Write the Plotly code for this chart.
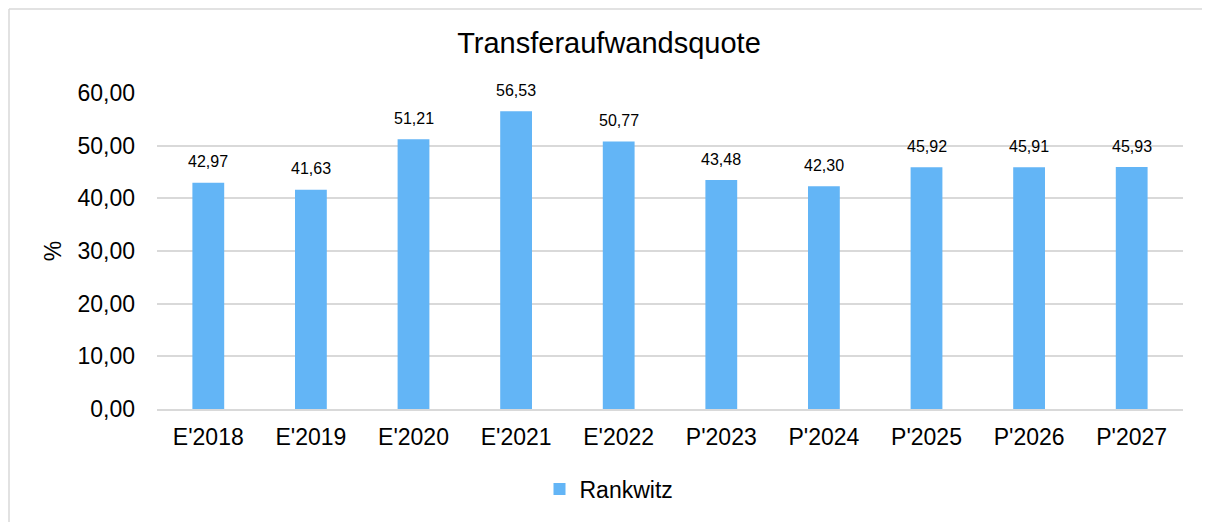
import plotly.graph_objects as go

categories = ["E'2018", "E'2019", "E'2020", "E'2021", "E'2022", "P'2023", "P'2024", "P'2025", "P'2026", "P'2027"]
values = [42.97, 41.63, 51.21, 56.53, 50.77, 43.48, 42.30, 45.92, 45.91, 45.93]
series_name = "Rankwitz"
y_ticks = [0, 10, 20, 30, 40, 50, 60]

FONT = "Liberation Sans, Arial, sans-serif"
BAR = "#63B5F6"

W, H = 1202, 514
L, R, T, B = 149, 27, 85, 113
PW, PH = W - L - R, H - T - B

fig = go.Figure()
fig.add_trace(go.Bar(x=categories, y=values, name=series_name, marker_color=BAR,
                     marker_line_width=0, showlegend=True))

for c, v in zip(categories, values):
    fig.add_annotation(x=c, y=v, text=f"{v:.2f}".replace(".", ","), showarrow=False,
                       yshift=21, font=dict(size=16, color="#000000", family=FONT))

fig.update_layout(
    width=W, height=H,
    margin=dict(l=L, r=R, t=T, b=B, autoexpand=False),
    paper_bgcolor="white", plot_bgcolor="white",
    separators=",.",
    bargap=0.69,
    font=dict(family=FONT, color="#000000"),
    title=dict(text="Transferaufwandsquote", x=0.5, xanchor="center", y=1 - 35 / H,
               yanchor="middle", font=dict(size=29, family=FONT, color="#000000")),
    legend=dict(orientation="h", x=0.5, xref="container", xanchor="center", y=(PH - (481 - T)) / PH,
                yanchor="middle", font=dict(size=23, family=FONT), traceorder="normal"),
    xaxis=dict(showgrid=False, showline=True, linecolor="#d9d9d9", linewidth=2, automargin=False,
               tickangle=0, tickfont=dict(size=23, family=FONT), ticks="", ticklabelstandoff=6),
    yaxis=dict(range=[0, 60], tickvals=y_ticks, tickformat=".2f", showgrid=True, automargin=False,
               gridcolor="#d9d9d9", gridwidth=1.5, zeroline=False, showline=False,
               tickfont=dict(size=23, family=FONT), ticklabelstandoff=21,
               title=dict(text="%", font=dict(size=23, family=FONT), standoff=9)),
)

# chart border (top & left)
bx0 = (1 - L) / PW
by0 = (PH + T - 1) / PH
fig.add_shape(type="line", xref="paper", yref="paper",
              x0=bx0, x1=(W - L) / PW, y0=by0, y1=by0,
              line=dict(color="#d9d9d9", width=1.5))
fig.add_shape(type="line", xref="paper", yref="paper",
              x0=bx0, x1=bx0, y0=by0, y1=-(B + 5) / PH,
              line=dict(color="#d9d9d9", width=1.5))

fig.write_html("out.html")
